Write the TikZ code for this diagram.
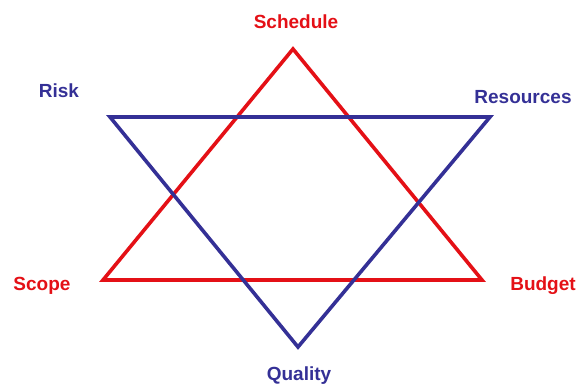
\documentclass[tikz,border=0pt]{standalone}
\usepackage{fontspec}
\setmainfont{Liberation Sans}
\usetikzlibrary{positioning}
\definecolor{starred}{RGB}{228,16,22}
\definecolor{starblue}{RGB}{52,48,150}

\begin{document}
\begin{tikzpicture}[x=1pt, y=-1pt, line width=3.6pt, line join=miter,
    lbl/.style={font=\fontsize{19}{22}\selectfont\bfseries, inner sep=0pt, anchor=base}]
        \useasboundingbox (0,0) rectangle (581,385);
        % red triangle
        \coordinate (top) at (293,49);
        \coordinate (left) at (103,280);
        \coordinate (right) at (482,280);
        % blue triangle
        \coordinate (tl) at (110,117);
        \coordinate (tr) at (490,117);
        \coordinate (bot) at (298,347);

        \draw[starred] (top) -- (right) -- (left) -- cycle;
        \draw[starblue] (tl) -- (tr) -- (bot) -- cycle;

        \node[lbl, text=starred] (schedule) at (296,29) {Schedule};
        \node[lbl, text=starred] (scope) at (42,290) {Scope};
        \node[lbl, text=starred] (budget) at (543,290) {Budget};
        \node[lbl, text=starblue] (risk) at (59,98) {Risk};
        \node[lbl, text=starblue] (resources) at (523,104) {Resources};
        \node[lbl, text=starblue] (quality) at (299,380) {Quality};
    \end{tikzpicture}
\end{document}
